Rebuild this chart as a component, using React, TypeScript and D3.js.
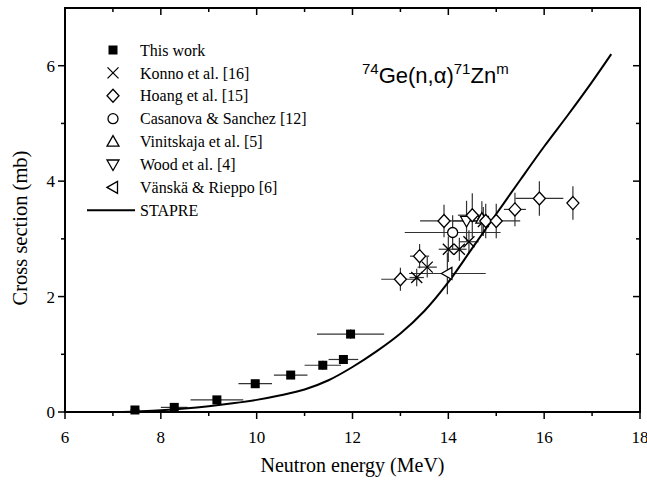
import * as d3 from "d3";

const W = 647;
const H = 482;
const M = { left: 65, right: 640, top: 8, bottom: 412 };

// [energy MeV, cross section mb, dE, dSigma]
const thisWork = [
  [7.46, 0.035, 0.1, 0.02],
  [8.28, 0.08, 0.28, 0.03],
  [9.17, 0.21, 0.55, 0.03],
  [9.97, 0.49, 0.35, 0.04],
  [10.71, 0.64, 0.35, 0.05],
  [11.38, 0.81, 0.38, 0.08],
  [11.81, 0.91, 0.31, 0.06],
  [11.96, 1.35, 0.7, 0.08],
];
const konno = [
  [13.34, 2.33, 0.15, 0.15],
  [13.56, 2.51, 0.2, 0.18],
  [14.0, 2.82, 0.2, 0.22],
  [14.23, 2.82, 0.15, 0.2],
  [14.43, 2.95, 0.2, 0.2],
  [14.73, 3.3, 0.15, 0.25],
];
const hoang = [
  [13.0, 2.3, 0.4, 0.2],
  [13.4, 2.7, 0.2, 0.21],
  [13.91, 3.31, 0.5, 0.28],
  [14.5, 3.41, 0.3, 0.38],
  [14.78, 3.31, 0.3, 0.3],
  [15.0, 3.31, 0.5, 0.3],
  [15.39, 3.51, 0.23, 0.29],
  [15.9, 3.7, 0.5, 0.3],
  [16.6, 3.62, 0, 0.29],
];
const casanova = [[14.09, 3.11, 1.0, 0.3]];
const vinitskaja = [[14.7, 3.35, 0.1, 0.3]];
const wood = [[14.38, 3.31, 0.3, 0.35]];
const vanska = [[13.98, 2.4, 0.8, 0.36]];

const stapreE = [7.2, 7.5, 8, 8.5, 9, 9.5, 10, 10.5, 11, 11.5, 12, 12.5, 13, 13.5, 14, 14.5, 15, 15.5, 16, 16.5, 17, 17.4];
const stapreS = [0, 0.01, 0.03, 0.06, 0.1, 0.15, 0.21, 0.29, 0.39, 0.55, 0.78, 1.05, 1.36, 1.75, 2.25, 2.84, 3.43, 4.02, 4.6, 5.15, 5.72, 6.2];

const xTicks = [6, 8, 10, 12, 14, 16, 18];
const xMinor = [7, 9, 11, 13, 15, 17];
const yTicks = [0, 2, 4, 6];
const yMinor = [1, 3, 5];

const legendItems = [
  { kind: "square", label: "This work" },
  { kind: "cross", label: "Konno et al. [16]" },
  { kind: "diamond", label: "Hoang et al. [15]" },
  { kind: "circle", label: "Casanova & Sanchez [12]" },
  { kind: "up", label: "Vinitskaja et al. [5]" },
  { kind: "down", label: "Wood et al. [4]" },
  { kind: "left", label: "Vänskä & Rieppo [6]" },
  { kind: "line", label: "STAPRE" },
];

const SERIF = "'Liberation Serif', 'Times New Roman', serif";
const SANS = "'Liberation Sans', Arial, sans-serif";

function Marker({ kind, x, y }: { kind: string; x: number; y: number }) {
  const sw = 1.3;
  switch (kind) {
    case "square":
      return <rect x={x - 4.5} y={y - 4.5} width={9} height={9} fill="#000" />;
    case "cross":
      return (
        <path d={`M${x - 5.5},${y - 5.5}L${x + 5.5},${y + 5.5}M${x - 5.5},${y + 5.5}L${x + 5.5},${y - 5.5}`} stroke="#000" strokeWidth={sw} fill="none" />
      );
    case "diamond":
      return <path d={`M${x},${y - 6.5}L${x + 6},${y}L${x},${y + 6.5}L${x - 6},${y}Z`} stroke="#000" strokeWidth={sw} fill="#fff" />;
    case "circle":
      return <circle cx={x} cy={y} r={5} stroke="#000" strokeWidth={sw} fill="#fff" />;
    case "up":
      return <path d={`M${x},${y - 6}L${x + 6},${y + 4.5}L${x - 6},${y + 4.5}Z`} stroke="#000" strokeWidth={sw} fill="#fff" />;
    case "down":
      return <path d={`M${x},${y + 6}L${x + 6},${y - 4.5}L${x - 6},${y - 4.5}Z`} stroke="#000" strokeWidth={sw} fill="#fff" />;
    case "left":
      return <path d={`M${x - 6},${y}L${x + 4.5},${y - 6}L${x + 4.5},${y + 6}Z`} stroke="#000" strokeWidth={sw} fill="#fff" />;
    default:
      return null;
  }
}

export default function App() {
  const x = d3.scaleLinear().domain([6, 18]).range([M.left, M.right]);
  const y = d3.scaleLinear().domain([0, 7]).range([M.bottom, M.top]);

  const line = d3
    .line<number>()
    .x((_, i) => x(stapreE[i]))
    .y((d) => y(d))
    .curve(d3.curveCatmullRom);

  const series: [string, number[][]][] = [
    ["cross", konno],
    ["circle", casanova],
    ["left", vanska],
    ["down", wood],
    ["up", vinitskaja],
    ["diamond", hoang],
    ["square", thisWork],
  ];

  return (
    <svg width={W} height={H} style={{ position: "absolute", left: 0, top: 0, background: "#fff" }}>
      {/* error bars */}
      <g stroke="#333" strokeWidth={1.2}>
        {series.map(([k, data]) =>
          data.map((d, i) => (
            <g key={k + i}>
              {d[2] > 0 && <line x1={x(d[0] - d[2])} x2={x(d[0] + d[2])} y1={y(d[1])} y2={y(d[1])} />}
              {d[3] > 0 && <line x1={x(d[0])} x2={x(d[0])} y1={y(d[1] - d[3])} y2={y(d[1] + d[3])} />}
            </g>
          ))
        )}
      </g>
      <path d={line(stapreS) || ""} fill="none" stroke="#000" strokeWidth={2} />
      {series.map(([k, data]) =>
        data.map((d, i) => <Marker key={k + "m" + i} kind={k} x={x(d[0])} y={y(d[1])} />)
      )}

      {/* frame */}
      <rect x={M.left} y={M.top} width={M.right - M.left} height={M.bottom - M.top} fill="none" stroke="#000" strokeWidth={2} />

      {/* ticks */}
      <g stroke="#000" strokeWidth={1.5}>
        {xTicks.map((t) => (
          <g key={"xt" + t}>
            <line x1={x(t)} x2={x(t)} y1={M.bottom} y2={M.bottom + 7} />
            <line x1={x(t)} x2={x(t)} y1={M.top} y2={M.top + 7} />
          </g>
        ))}
        {xMinor.map((t) => (
          <g key={"xm" + t}>
            <line x1={x(t)} x2={x(t)} y1={M.bottom} y2={M.bottom + 4} />
            <line x1={x(t)} x2={x(t)} y1={M.top} y2={M.top + 4} />
          </g>
        ))}
        {yTicks.map((t) => (
          <g key={"yt" + t}>
            <line x1={M.left - 7} x2={M.left} y1={y(t)} y2={y(t)} />
            <line x1={M.right - 7} x2={M.right} y1={y(t)} y2={y(t)} />
          </g>
        ))}
        {yMinor.map((t) => (
          <g key={"ym" + t}>
            <line x1={M.left - 4} x2={M.left} y1={y(t)} y2={y(t)} />
            <line x1={M.right - 4} x2={M.right} y1={y(t)} y2={y(t)} />
          </g>
        ))}
      </g>

      {/* tick labels */}
      <g fontFamily={SERIF} fontSize={17} fill="#000">
        {xTicks.map((t) => (
          <text key={"xl" + t} x={x(t)} y={M.bottom + 31} textAnchor="middle">
            {t}
          </text>
        ))}
        {yTicks.map((t) => (
          <text key={"yl" + t} x={M.left - 10} y={y(t)} dy="0.35em" textAnchor="end">
            {t}
          </text>
        ))}
      </g>

      {/* axis titles */}
      <text x={(M.left + M.right) / 2} y={472} textAnchor="middle" fontFamily={SERIF} fontSize={20}>
        Neutron energy (MeV)
      </text>
      <text transform={`translate(27,${228}) rotate(-90)`} textAnchor="middle" fontFamily={SERIF} fontSize={20.5}>
        Cross section (mb)
      </text>

      {/* reaction title */}
      <text x={362} y={83} fontFamily={SANS} fontSize={22}>
        <tspan fontSize={15} dy={-9}>74</tspan>
        <tspan dy={9}>Ge(n,α)</tspan>
        <tspan fontSize={15} dy={-9}>71</tspan>
        <tspan dy={9}>Zn</tspan>
        <tspan fontSize={15} dy={-9}>m</tspan>
      </text>

      {/* legend */}
      <g fontFamily={SERIF} fontSize={16}>
        {legendItems.map((it, i) => {
          const ly = 50 + i * 22.9;
          return (
            <g key={it.label}>
              {it.kind === "line" ? (
                <line x1={87} x2={135} y1={ly} y2={ly} stroke="#000" strokeWidth={2} />
              ) : (
                <Marker kind={it.kind} x={113} y={ly} />
              )}
              <text x={140} y={ly} dy="0.35em">
                {it.label}
              </text>
            </g>
          );
        })}
      </g>
    </svg>
  );
}
